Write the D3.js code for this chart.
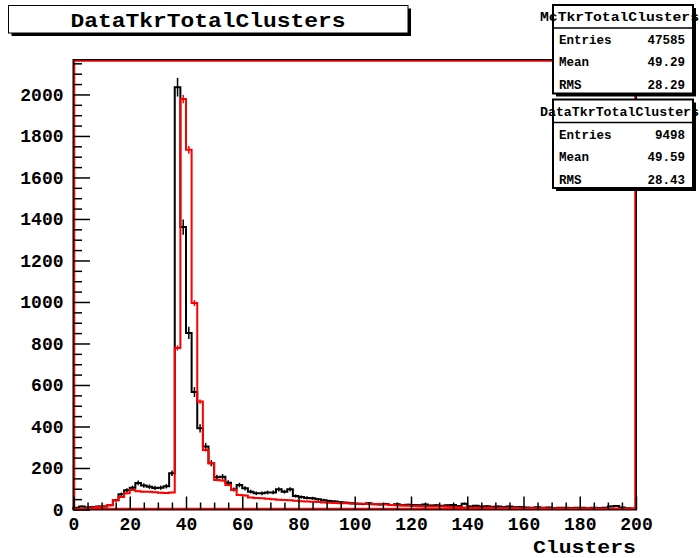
<!DOCTYPE html>
<html><head><meta charset="utf-8">
<script src="https://cdn.jsdelivr.net/npm/d3@7"></script>
<style>body{margin:0;background:#fff}svg{display:block}</style>
</head><body>
<svg id="c" width="700" height="558"></svg>
<script>
// ---------- data ----------
const histTitle = "DataTkrTotalClusters";
const xTitle = "Clusters";
const binEdgesStart = 0, binWidth = 2, nBins = 100;
const xTickValues = [0,20,40,60,80,100,120,140,160,180,200];
const yTickValues = [0,200,400,600,800,1000,1200,1400,1600,1800,2000];
const dataCounts = [
  8, 15, 10, 12, 15, 14, 20, 44, 73, 93,
  105, 128, 116, 110, 104, 105, 112, 175, 2035, 1361,
  851, 566, 391, 303, 223, 155, 158, 129, 96, 118,
  102, 86, 78, 78, 82, 82, 97, 86, 97, 65,
  60, 56, 54, 49, 45, 41, 38, 35, 33, 30,
  28, 26, 30, 25, 24, 27, 22, 25, 21, 23,
  22, 20, 24, 19, 21, 18, 20, 22, 17, 28,
  15, 18, 14, 16, 13, 15, 12, 14, 11, 12,
  10, 9, 11, 8, 10, 7, 9, 8, 7, 9,
  8, 6, 9, 7, 8, 15, 17, 10, 6, 5
];
const mcCounts = [
  1, 3, 5, 8, 12, 16, 22, 44, 60, 78,
  94, 88, 86, 85, 83, 81, 80, 82, 778, 1978,
  1733, 995, 520, 287, 223, 142, 140, 118, 94, 70,
  68, 58, 55, 54, 52, 49, 47, 46, 44, 42,
  40, 39, 37, 36, 34, 32, 31, 30, 30, 29,
  28, 28, 27, 27, 26, 24, 22, 20, 19, 18,
  17, 16, 15, 15, 14, 14, 13, 12, 11, 10,
  9, 9, 8, 8, 8, 7, 7, 7, 7, 6,
  6, 6, 6, 6, 5, 5, 5, 5, 5, 5,
  5, 5, 5, 4, 4, 4, 4, 4, 4, 4
];
const statLabels = ["Entries", "Mean", "RMS"];
const mcStatName = "McTkrTotalClusters";
const mcStatValues = ["47585", "49.29", "28.29"];
const dataStatName = "DataTkrTotalClusters";
const dataStatValues = ["9498", "49.59", "28.43"];
const dataEntries = 9498, mcEntries = 47585;

// ---------- drawing ----------
const svg = d3.select("#c");
const FONT = "'Liberation Mono','Courier New',monospace";
const x = d3.scaleLinear().domain([0, 200]).range([73.5, 636]);
const y = d3.scaleLinear().domain([0, 2166]).range([509.5, 60]);

function histPath(counts) {
  const p = d3.path();
  p.moveTo(x(binEdgesStart), y(0));
  counts.forEach((v, i) => {
    const lo = binEdgesStart + i * binWidth, hi = lo + binWidth;
    p.lineTo(x(lo), y(v));
    p.lineTo(x(hi), y(v));
  });
  p.lineTo(x(binEdgesStart + nBins * binWidth), y(0));
  return p.toString();
}
function drawHist(counts, color, errScale) {
  svg.append("path").attr("d", histPath(counts))
    .attr("fill", "none").attr("stroke", color).attr("stroke-width", 2)
    .attr("stroke-linejoin", "miter");
  svg.append("g").selectAll("line").data(counts).join("line")
    .attr("x1", (d, i) => x(binEdgesStart + (i + 0.5) * binWidth))
    .attr("x2", (d, i) => x(binEdgesStart + (i + 0.5) * binWidth))
    .attr("y1", d => y(d + Math.sqrt(d * errScale)))
    .attr("y2", d => y(Math.max(0, d - Math.sqrt(d * errScale))))
    .attr("stroke", color).attr("stroke-width", 1.5);
}
drawHist(dataCounts, "#000", 1);
drawHist(mcCounts, "#ff0000", dataEntries / mcEntries);

// frame
const [fx0, fx1] = x.range(), [fy0, fy1] = [y(2166), y(0)];
svg.append("rect").attr("x", fx0).attr("y", fy0).attr("width", fx1 - fx0).attr("height", fy1 - fy0)
  .attr("fill", "none").attr("stroke", "#000").attr("stroke-width", 2);
svg.append("rect").attr("x", fx0 + 1).attr("y", fy0 + 1).attr("width", fx1 - fx0 - 2).attr("height", fy1 - fy0 - 2)
  .attr("fill", "none").attr("stroke", "#ff0000").attr("stroke-width", 1.5);

// axes
const xMinor = d3.range(0, 201, 5).filter(v => v % 20 !== 0);
const yMinor = d3.range(0, 2151, 50).filter(v => v % 200 !== 0);
const gx = svg.append("g").attr("transform", `translate(0,${y(0)})`);
gx.call(d3.axisBottom(x).tickValues(xTickValues).tickSizeInner(-13).tickSizeOuter(0).tickPadding(8).tickFormat(d3.format("d")));
gx.append("g").call(d3.axisBottom(x).tickValues(xMinor).tickSizeInner(-7).tickSizeOuter(0).tickFormat(""));
const gy = svg.append("g").attr("transform", `translate(${x(0)},0)`);
gy.call(d3.axisLeft(y).tickValues(yTickValues).tickSizeInner(-16.5).tickSizeOuter(0).tickPadding(10).tickFormat(d3.format("d")));
gy.append("g").call(d3.axisLeft(y).tickValues(yMinor).tickSizeInner(-8.5).tickSizeOuter(0).tickFormat(""));
svg.selectAll(".domain").remove();
svg.selectAll(".tick line").attr("stroke", "#000").attr("stroke-width", 1.5);
[gx, gy].forEach(g => g.selectAll("text").attr("font-family", FONT).attr("font-weight", "bold")
  .attr("font-size", 18).attr("fill", "#000"));

// x axis title
svg.append("text").attr("x", 636).attr("y", 553).attr("text-anchor", "end")
  .attr("font-family", FONT).attr("font-weight", "bold").attr("font-size", 19)
  .attr("textLength", 103).attr("lengthAdjust", "spacingAndGlyphs").text(xTitle);

// title box
function shadowBox(x0, y0, w, h, sw) {
  svg.append("rect").attr("x", x0 + 3).attr("y", y0 + 3).attr("width", w).attr("height", h).attr("fill", "#000");
  svg.append("rect").attr("x", x0).attr("y", y0).attr("width", w).attr("height", h)
    .attr("fill", "#fff").attr("stroke", "#000").attr("stroke-width", sw);
}
shadowBox(8.5, 5.5, 399.5, 27.5, 1);
svg.append("text").attr("x", 208).attr("y", 27).attr("text-anchor", "middle")
  .attr("font-family", FONT).attr("font-weight", "bold").attr("font-size", 21)
  .attr("textLength", 275).attr("lengthAdjust", "spacingAndGlyphs").text(histTitle);

// stats boxes
function statsBox(top, name, values) {
  const bx = 553, bw = 140, bh = 88.5;
  shadowBox(bx, top, bw, bh, 2);
  svg.append("line").attr("x1", bx).attr("x2", bx + bw).attr("y1", top + 23).attr("y2", top + 23)
    .attr("stroke", "#000").attr("stroke-width", 1.5);
  svg.append("text").attr("x", 540).attr("y", top + 16)
    .attr("font-family", FONT).attr("font-weight", "bold").attr("font-size", 12.5)
    .attr("textLength", 159).attr("lengthAdjust", "spacingAndGlyphs").text(name);
  const rowY = [top + 39, top + 61, top + 84];
  statLabels.forEach((lab, i) => {
    svg.append("text").attr("x", 559).attr("y", rowY[i]).attr("font-family", FONT)
      .attr("font-weight", "bold").attr("font-size", 12.5).text(lab);
    svg.append("text").attr("x", 685).attr("y", rowY[i]).attr("text-anchor", "end").attr("font-family", FONT)
      .attr("font-weight", "bold").attr("font-size", 12.5).text(values[i]);
  });
}
statsBox(5, mcStatName, mcStatValues);
statsBox(99.5, dataStatName, dataStatValues);
</script>
</body></html>
